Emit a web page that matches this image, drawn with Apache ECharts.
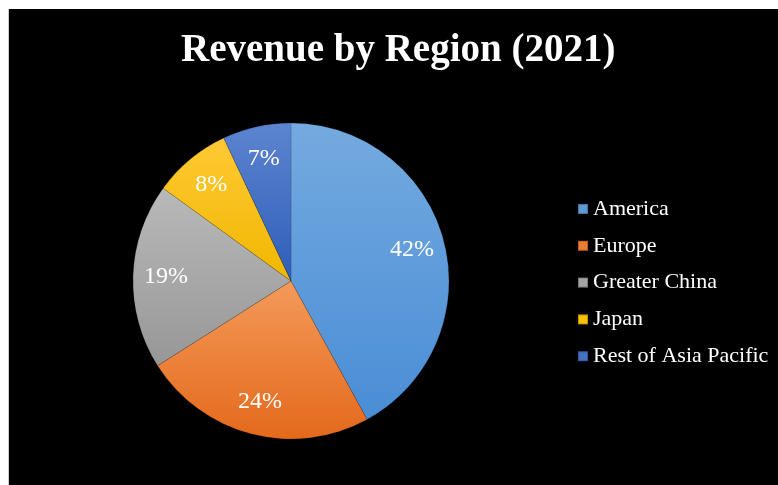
<!DOCTYPE html>
<html>
<head>
<meta charset="utf-8">
<script src="https://cdn.jsdelivr.net/npm/echarts@6/dist/echarts.min.js"></script>
<style>
  html, body { margin: 0; padding: 0; background: #fff; }
  #chart { position: absolute; left: 8px; top: 9px; width: 770px; height: 476px; background: #000; border-left: 1px solid #ccc; box-sizing: border-box; }
</style>
</head>
<body>
<div id="chart"></div>
<script>
const regions = ["America", "Europe", "Greater China", "Japan", "Rest of Asia Pacific"];
const shares = [42, 24, 19, 8, 7];
const baseColors = ["#5B9BD5", "#ED7D31", "#A5A5A5", "#FFC000", "#4472C4"];
const topColors = ["#74AADF", "#F49A5A", "#B9B9B9", "#FFC935", "#5C84D0"];
const bottomColors = ["#4A8DD6", "#E4691B", "#979797", "#F0B700", "#2F5EB8"];

const chart = echarts.init(document.getElementById("chart"));

const fillData = regions.map((name, i) => ({
  name,
  value: shares[i],
  itemStyle: {
    color: new echarts.graphic.LinearGradient(0, 0, 0, 1, [
      { offset: 0, color: topColors[i] },
      { offset: 1, color: bottomColors[i] },
    ]),
  },
}));

const option = {
  backgroundColor: "#000",
  title: {
    text: "Revenue by Region (2021)",
    left: 167,
    top: 17,
    textStyle: {
      color: "#fff",
      fontFamily: "Liberation Serif",
      fontWeight: "bold",
      fontSize: 39,
    },
  },
  legend: {
    orient: "vertical",
    left: 563,
    top: 184,
    itemWidth: 10,
    itemHeight: 10,
    itemGap: 14.8,
    icon: "rect",
    data: regions.map((name, i) => ({ name, itemStyle: { color: baseColors[i] } })),
    textStyle: {
      color: "#fff",
      fontFamily: "Liberation Serif",
      fontSize: 22,
      lineHeight: 22,
    },
  },
  series: [
    {
      type: "pie",
      center: [282, 272],
      radius: [0, 158],
      startAngle: 90,
      clockwise: true,
      animation: false,
      silent: true,
      label: { show: false },
      labelLine: { show: false },
      itemStyle: { borderColor: "rgba(0,0,0,0.25)", borderWidth: 0.5 },
      data: fillData,
    },
    {
      // transparent overlay only used to push the labels outward
      type: "pie",
      center: [282, 272],
      radius: [86, 158],
      startAngle: 90,
      clockwise: true,
      animation: false,
      silent: true,
      itemStyle: { color: "rgba(0,0,0,0)" },
      label: {
        show: true,
        position: "inside",
        formatter: "{c}%",
        color: "#fff",
        fontFamily: "Liberation Serif",
        fontSize: 24,
      },
      labelLine: { show: false },
      data: regions.map((name, i) => ({ name, value: shares[i] })),
    },
  ],
};

chart.setOption(option);
</script>
</body>
</html>
